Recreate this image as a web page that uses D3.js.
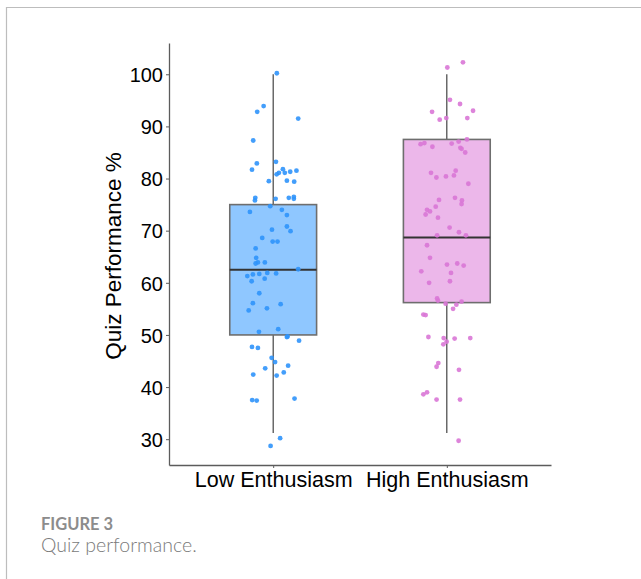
<!DOCTYPE html>
<html>
<head>
<meta charset="utf-8">
<script src="https://cdn.jsdelivr.net/npm/d3@7"></script>
<style>
  body { margin: 0; background: #fff; }
  svg { display: block; }
</style>
</head>
<body>
<svg id="chart" width="641" height="579"></svg>
<script>
// groups on the x axis
const groups = ["Low Enthusiasm", "High Enthusiasm"];

// box summary per group
const q1 = [50.0, 56.2];
const medians = [62.5, 68.7];
const q3 = [75.0, 87.5];
const whiskerLo = [31.2, 31.2];
const whiskerHi = [100.0, 100.0];

const yTicks = [30, 40, 50, 60, 70, 80, 90, 100];

// jittered observations: score and horizontal jitter (fraction of group step)
const lowScores = [100.2, 93.9, 92.8, 91.5, 87.3, 82.9, 83.2, 81.7, 81.8, 81.1,
  80.8, 81.1, 81.3, 81.5, 79.5, 79.6, 79.4, 76.3, 75.8, 76.1,
  76.3, 76.5, 76.1, 74.7, 74.0, 73.6, 73.0, 70.8, 69.9, 70.2,
  68.6, 67.9, 67.9, 66.6, 64.8, 63.9, 63.7, 63.9, 62.6, 61.3,
  61.6, 61.7, 61.9, 61.8, 60.3, 60.8, 58.0, 56.1, 55.9, 54.7,
  55.1, 50.6, 51.1, 49.6, 49.7, 48.9, 47.7, 47.5, 45.6, 44.8,
  44.1, 43.6, 42.4, 42.2, 42.8, 37.5, 37.4, 37.8, 30.2, 28.7];
const lowJitter = [0.021, -0.055, -0.092, 0.144, -0.115, -0.094, 0.016, -0.122, 0.056, 0.033,
  0.020, 0.067, 0.098, 0.134, -0.025, 0.079, 0.121, -0.103, -0.105, 0.014,
  0.090, 0.119, 0.119, -0.017, 0.050, -0.134, 0.079, 0.079, 0.100, -0.007,
  -0.063, -0.003, 0.025, -0.101, -0.098, -0.088, -0.101, -0.048, 0.144, -0.149,
  -0.117, -0.080, -0.034, 0.017, -0.124, -0.049, -0.080, -0.117, 0.043, -0.141,
  -0.036, -0.082, 0.029, 0.079, 0.083, 0.149, -0.122, -0.088, -0.009, 0.011,
  0.086, -0.046, -0.115, 0.020, 0.061, -0.121, -0.095, 0.123, 0.040, -0.015];

const highScores = [102.3, 101.3, 95.1, 94.3, 92.8, 93.0, 91.3, 91.6, 91.6, 86.6,
  86.8, 86.1, 86.7, 87.1, 87.5, 85.9, 85.7, 85.0, 81.1, 80.2,
  80.4, 80.6, 81.5, 79.0, 75.9, 76.3, 75.8, 75.1, 74.6, 74.0,
  73.7, 73.1, 72.5, 70.6, 69.7, 69.1, 69.1, 67.2, 64.8, 63.5,
  63.7, 63.3, 62.2, 61.9, 60.0, 60.3, 57.0, 56.6, 56.0, 55.8,
  56.4, 55.0, 53.9, 53.8, 49.6, 49.4, 48.7, 48.2, 49.3, 49.4,
  44.6, 43.9, 43.3, 38.6, 39.0, 37.6, 37.6, 29.7];
const highJitter = [0.093, 0.003, 0.018, 0.076, -0.085, 0.151, -0.041, -0.003, 0.118, -0.151,
  -0.129, -0.083, 0.028, 0.068, 0.116, 0.078, 0.085, 0.106, -0.091, -0.060,
  -0.005, 0.041, 0.051, 0.124, -0.045, 0.047, 0.087, 0.085, -0.064, -0.114,
  -0.097, -0.122, -0.051, 0.016, 0.070, -0.056, 0.110, -0.114, -0.097, 0.001,
  0.060, 0.097, -0.147, 0.024, -0.102, 0.018, -0.056, -0.051, -0.007, 0.055,
  0.085, 0.036, -0.135, -0.122, -0.106, -0.018, -0.001, -0.020, 0.045, 0.135,
  -0.049, -0.059, 0.070, -0.135, -0.114, -0.059, 0.076, 0.068];

const boxFill = ["#8fc7ff", "#ecb7ea"];
const pointColor = ["#2f93fb", "#d977d6"];

const svg = d3.select("#chart");

// frame of the figure panel
svg.append("path")
  .attr("d", "M6.5,579 V7.5 H641")
  .attr("fill", "none").attr("stroke", "#bdbdbd").attr("stroke-width", 1.2);

const m = { left: 169, right: 551, top: 43, bottom: 465 };

const x = d3.scalePoint().domain(groups).range([m.left, m.right]).padding(0.6);
const y = d3.scaleLinear().domain([25.05, 106]).range([m.bottom, m.top]);
const boxW = x.step() * 0.5;

// boxes
const boxes = groups.map((g, i) => ({
  g, i, q1: q1[i], med: medians[i], q3: q3[i], lo: whiskerLo[i], hi: whiskerHi[i]
}));

const gBox = svg.append("g");
gBox.selectAll("line.whUp").data(boxes).enter().append("line")
  .attr("x1", d => x(d.g)).attr("x2", d => x(d.g))
  .attr("y1", d => y(d.q3)).attr("y2", d => y(d.hi))
  .attr("stroke", "#333").attr("stroke-width", 1.1);
gBox.selectAll("line.whLo").data(boxes).enter().append("line")
  .attr("x1", d => x(d.g)).attr("x2", d => x(d.g))
  .attr("y1", d => y(d.q1)).attr("y2", d => y(d.lo))
  .attr("stroke", "#333").attr("stroke-width", 1.1);
gBox.selectAll("rect").data(boxes).enter().append("rect")
  .attr("x", d => x(d.g) - boxW / 2).attr("width", boxW)
  .attr("y", d => y(d.q3)).attr("height", d => y(d.q1) - y(d.q3))
  .attr("fill", d => boxFill[d.i])
  .attr("stroke", "#6e6e6e").attr("stroke-width", 1.6);
gBox.selectAll("line.med").data(boxes).enter().append("line")
  .attr("x1", d => x(d.g) - boxW / 2).attr("x2", d => x(d.g) + boxW / 2)
  .attr("y1", d => y(d.med)).attr("y2", d => y(d.med))
  .attr("stroke", "#333").attr("stroke-width", 2);

// points
const pts = [];
lowScores.forEach((v, k) => pts.push({ i: 0, v, j: lowJitter[k] }));
highScores.forEach((v, k) => pts.push({ i: 1, v, j: highJitter[k] }));

svg.append("g").selectAll("circle").data(pts).enter().append("circle")
  .attr("cx", d => x(groups[d.i]) + d.j * x.step())
  .attr("cy", d => y(d.v))
  .attr("r", 2.4)
  .attr("fill", d => pointColor[d.i])
  .attr("fill-opacity", 0.9);

// axes
const axisColor = "#5c5c5c";
const gy = svg.append("g").attr("transform", `translate(${m.left},0)`)
  .call(d3.axisLeft(y).tickValues(yTicks).tickSize(3).tickSizeOuter(0).tickPadding(3));
const gx = svg.append("g").attr("transform", `translate(0,${m.bottom})`)
  .call(d3.axisBottom(x).tickSize(3).tickSizeOuter(0).tickPadding(4));

[gy, gx].forEach(g => {
  g.select(".domain").attr("stroke", axisColor).attr("stroke-width", 1.3);
  g.selectAll(".tick line").attr("stroke", axisColor).attr("stroke-width", 1);
  g.selectAll("text").attr("fill", "#000")
    .style("font-family", "'Liberation Sans', Arial, sans-serif");
});
gy.selectAll("text").style("font-size", "20px").attr("dy", "0.36em");
gx.selectAll("text").style("font-size", "21.5px").attr("dy", "0.71em");

// y axis title
svg.append("text")
  .attr("transform", `translate(121,${(m.top + m.bottom) / 2 + 2}) rotate(-90)`)
  .attr("text-anchor", "middle")
  .style("font-family", "'Liberation Sans', Arial, sans-serif")
  .style("font-size", "22.5px")
  .text("Quiz Performance %");

// caption
svg.append("text")
  .attr("x", 41).attr("y", 530)
  .style("font-family", "Lato, 'Open Sans', sans-serif")
  .style("font-size", "16.5px").style("font-weight", "bold")
  .attr("fill", "#8c8c8c")
  .text("FIGURE 3");
svg.append("text")
  .attr("x", 41).attr("y", 552)
  .style("font-family", "Lato, 'Open Sans', sans-serif")
  .style("font-size", "19.5px").style("font-weight", "300")
  .attr("fill", "#7a7a7a")
  .text("Quiz performance.");
</script>
</body>
</html>
